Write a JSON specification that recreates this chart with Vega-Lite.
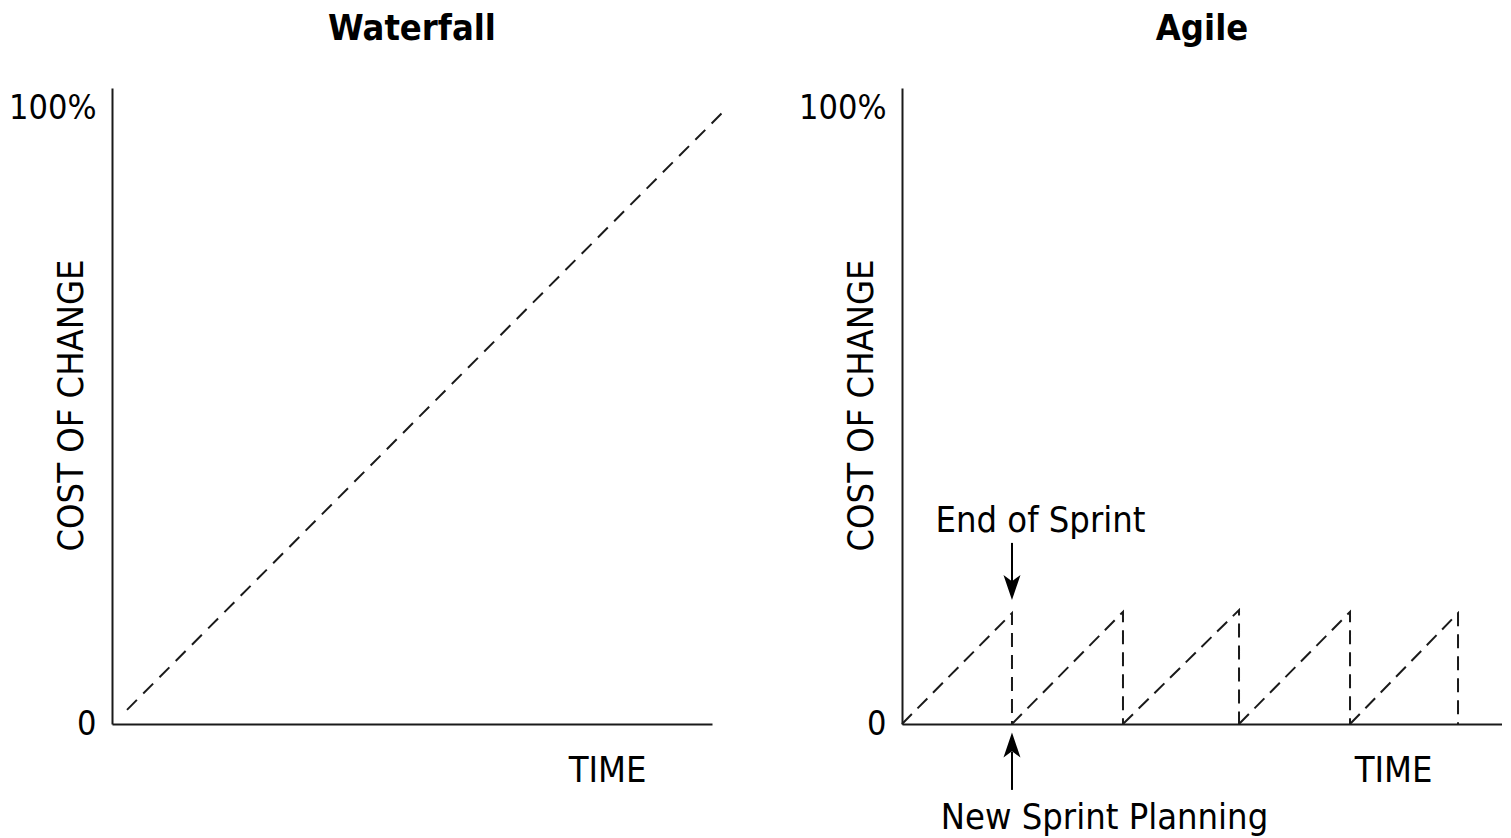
{
  "$schema": "https://vega.github.io/schema/vega-lite/v6.json",
  "background": "white",
  "padding": {"left": 8, "top": 11, "right": 0, "bottom": 0},
  "bounds": "flush",
  "spacing": 190,
  "datasets": {
    "waterfall": [
      {"t": 2.5, "cost": 2.3},
      {"t": 102.5, "cost": 100}
    ],
    "agile": [
      {"sprint": 1, "step": 1, "t": 0, "cost": 0},
      {"sprint": 1, "step": 2, "t": 18.33, "cost": 18.0},
      {"sprint": 1, "step": 3, "t": 18.33, "cost": 0},
      {"sprint": 2, "step": 1, "t": 18.33, "cost": 0},
      {"sprint": 2, "step": 2, "t": 36.83, "cost": 18.2},
      {"sprint": 2, "step": 3, "t": 36.83, "cost": 0},
      {"sprint": 3, "step": 1, "t": 36.83, "cost": 0},
      {"sprint": 3, "step": 2, "t": 56.17, "cost": 18.5},
      {"sprint": 3, "step": 3, "t": 56.17, "cost": 0},
      {"sprint": 4, "step": 1, "t": 56.17, "cost": 0},
      {"sprint": 4, "step": 2, "t": 74.67, "cost": 18.2},
      {"sprint": 4, "step": 3, "t": 74.67, "cost": 0},
      {"sprint": 5, "step": 1, "t": 74.67, "cost": 0},
      {"sprint": 5, "step": 2, "t": 92.67, "cost": 18.0},
      {"sprint": 5, "step": 3, "t": 92.67, "cost": 0}
    ],
    "arrows": [
      {"name": "end", "t": 18.33, "from": 29.4, "to": 21.0, "head": 22.16, "dir": "down"},
      {"name": "new", "t": 18.33, "from": -10.7, "to": -4.5, "head": -3.41, "dir": "up"}
    ],
    "notes": [
      {"label": "End of Sprint", "t": 23.08, "cost": 33.0},
      {"label": "New Sprint Planning", "t": 33.75, "cost": -15.2}
    ]
  },
  "config": {
    "view": {"stroke": null},
    "font": "Liberation Sans Narrow, DejaVu Sans Condensed, sans-serif",
    "axis": {
      "domainColor": "#1a1a1a",
      "domainWidth": 2,
      "ticks": false,
      "grid": false,
      "labelColor": "#000000",
      "labelFont": "Liberation Sans Narrow, DejaVu Sans Condensed, sans-serif",
      "labelFontSize": 34,
      "titleColor": "#000000",
      "titleFont": "Liberation Sans Narrow, DejaVu Sans Condensed, sans-serif",
      "titleFontSize": 36,
      "titleFontWeight": "normal"
    },
    "title": {
      "font": "Liberation Sans Narrow, DejaVu Sans Condensed, sans-serif",
      "fontSize": 36,
      "fontWeight": "bold",
      "color": "#000000",
      "anchor": "middle",
      "frame": "group",
      "offset": 40
    }
  },
  "hconcat": [
    {
      "title": "Waterfall",
      "width": 600,
      "height": 636,
      "data": {"name": "waterfall"},
      "mark": {"type": "line", "strokeDash": [14, 9], "strokeWidth": 2, "color": "#1a1a1a", "clip": false},
      "encoding": {
        "x": {
          "field": "t", "type": "quantitative",
          "scale": {"domain": [0, 100], "nice": false, "zero": false},
          "axis": {"labels": false, "title": "TIME", "titleX": 495, "titleY": 46, "titleBaseline": "middle", "titleAlign": "center", "values": []}
        },
        "y": {
          "field": "cost", "type": "quantitative",
          "scale": {"domain": [0, 103.25], "nice": false, "zero": false},
          "axis": {"values": [0, 100], "labelExpr": "datum.value == 100 ? '100%' : datum.label", "labelPadding": 16, "labelBaseline": "middle", "title": "COST OF CHANGE", "titleX": -41, "titleY": 317, "titleAngle": -90, "titleAlign": "center", "titleBaseline": "middle"}
        }
      }
    },
    {
      "title": "Agile",
      "width": 600,
      "height": 636,
      "encoding": {
        "x": {
          "field": "t", "type": "quantitative",
          "scale": {"domain": [0, 100], "nice": false, "zero": false},
          "axis": {"labels": false, "title": "TIME", "titleX": 491, "titleY": 46, "titleBaseline": "middle", "titleAlign": "center", "values": []}
        },
        "y": {
          "field": "cost", "type": "quantitative",
          "scale": {"domain": [0, 103.25], "nice": false, "zero": false},
          "axis": {"values": [0, 100], "labelExpr": "datum.value == 100 ? '100%' : datum.label", "labelPadding": 16, "labelBaseline": "middle", "title": "COST OF CHANGE", "titleX": -41, "titleY": 317, "titleAngle": -90, "titleAlign": "center", "titleBaseline": "middle"}
        }
      },
      "layer": [
        {
          "data": {"name": "agile"},
          "mark": {"type": "line", "strokeDash": [14, 8], "strokeWidth": 2, "color": "#1a1a1a", "clip": false},
          "encoding": {
            "detail": {"field": "sprint", "type": "nominal"},
            "order": {"field": "step", "type": "quantitative"}
          }
        },
        {
          "data": {"name": "arrows"},
          "mark": {"type": "rule", "strokeWidth": 2, "color": "#000000"},
          "encoding": {
            "y": {"field": "from", "type": "quantitative"},
            "y2": {"field": "to"}
          }
        },
        {
          "data": {"name": "arrows"},
          "transform": [{"filter": "datum.dir == 'down'"}],
          "mark": {"type": "point", "filled": true, "opacity": 1, "color": "#000000", "size": 625, "shape": "M0,1 L-0.68,-1 L0,-0.5 L0.68,-1 Z"},
          "encoding": {
            "y": {"field": "head", "type": "quantitative"}
          }
        },
        {
          "data": {"name": "arrows"},
          "transform": [{"filter": "datum.dir == 'up'"}],
          "mark": {"type": "point", "filled": true, "opacity": 1, "color": "#000000", "size": 625, "shape": "M0,-1 L-0.68,1 L0,0.5 L0.68,1 Z"},
          "encoding": {
            "y": {"field": "head", "type": "quantitative"}
          }
        },
        {
          "data": {"name": "notes"},
          "mark": {"type": "text", "fontSize": 36, "align": "center", "baseline": "middle", "color": "#000000"},
          "encoding": {
            "text": {"field": "label", "type": "nominal"}
          }
        }
      ]
    }
  ]
}
